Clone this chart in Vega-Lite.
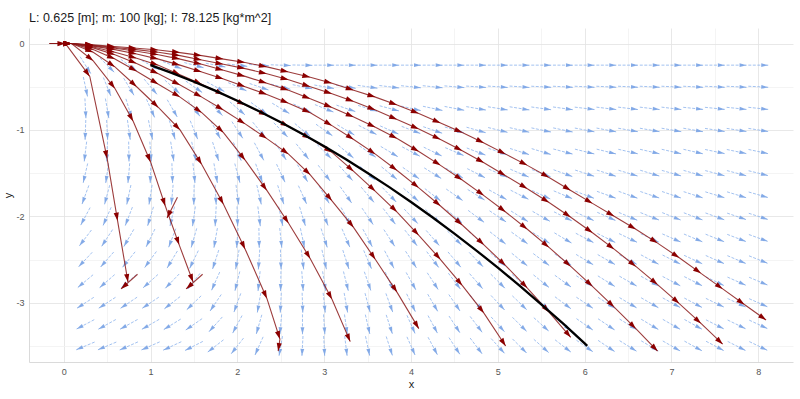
{
"$schema":"https://vega.github.io/schema/vega-lite/v6.json",
"width":764,"height":334,"autosize":"none",
"padding":{"left":29,"top":28,"right":7,"bottom":37},
"background":"white",
"title":{"text":"L: 0.625 [m]; m: 100 [kg]; I: 78.125 [kg*m^2]","anchor":"start","frame":"group","font":"Liberation Sans","fontSize":12.5,"fontWeight":"normal","color":"#1a1a1a","baseline":"alphabetic","offset":7,"dy":13},
"config":{"view":{"stroke":null}},
"datasets":{
"field":[
{"x":0.25,"y":-0.25,"a":-58},{"x":0.5,"y":-0.25,"a":-45},{"x":0.75,"y":-0.25,"a":-36},{"x":1,"y":-0.25,"a":-28},{"x":1.25,"y":-0.25,"a":-21},{"x":1.5,"y":-0.25,"a":-15},{"x":1.75,"y":-0.25,"a":-11},{"x":2,"y":-0.25,"a":-7},{"x":2.25,"y":-0.25,"a":-4},{"x":2.5,"y":-0.25,"a":-2},{"x":2.75,"y":-0.25,"a":-1},{"x":3,"y":-0.25,"a":0},{"x":3.25,"y":-0.25,"a":0},{"x":3.5,"y":-0.25,"a":0},{"x":3.75,"y":-0.25,"a":0},{"x":4,"y":-0.25,"a":0},{"x":4.25,"y":-0.25,"a":0},{"x":4.5,"y":-0.25,"a":0},{"x":4.75,"y":-0.25,"a":0},{"x":5,"y":-0.25,"a":0},{"x":5.25,"y":-0.25,"a":0},{"x":5.5,"y":-0.25,"a":0},{"x":5.75,"y":-0.25,"a":0},{"x":6,"y":-0.25,"a":0},{"x":6.25,"y":-0.25,"a":0},{"x":6.5,"y":-0.25,"a":0},{"x":6.75,"y":-0.25,"a":0},{"x":7,"y":-0.25,"a":0},{"x":7.25,"y":-0.25,"a":0},{"x":7.5,"y":-0.25,"a":0},{"x":7.75,"y":-0.25,"a":0},{"x":8,"y":-0.25,"a":0},
{"x":0.25,"y":-0.5,"a":-78},{"x":0.5,"y":-0.5,"a":-68},{"x":0.75,"y":-0.5,"a":-59},{"x":1,"y":-0.5,"a":-50},{"x":1.25,"y":-0.5,"a":-42},{"x":1.5,"y":-0.5,"a":-35},{"x":1.75,"y":-0.5,"a":-29},{"x":2,"y":-0.5,"a":-24},{"x":2.25,"y":-0.5,"a":-19},{"x":2.5,"y":-0.5,"a":-15},{"x":2.75,"y":-0.5,"a":-12},{"x":3,"y":-0.5,"a":-10},{"x":3.25,"y":-0.5,"a":-9},{"x":3.5,"y":-0.5,"a":-8},{"x":3.75,"y":-0.5,"a":-7},{"x":4,"y":-0.5,"a":-6},{"x":4.25,"y":-0.5,"a":-6},{"x":4.5,"y":-0.5,"a":-5},{"x":4.75,"y":-0.5,"a":-4},{"x":5,"y":-0.5,"a":-4},{"x":5.25,"y":-0.5,"a":-4},{"x":5.5,"y":-0.5,"a":-3},{"x":5.75,"y":-0.5,"a":-3},{"x":6,"y":-0.5,"a":-3},{"x":6.25,"y":-0.5,"a":-3},{"x":6.5,"y":-0.5,"a":-3},{"x":6.75,"y":-0.5,"a":-3},{"x":7,"y":-0.5,"a":-3},{"x":7.25,"y":-0.5,"a":-3},{"x":7.5,"y":-0.5,"a":-3},{"x":7.75,"y":-0.5,"a":-3},{"x":8,"y":-0.5,"a":-3},
{"x":0.25,"y":-0.75,"a":-87},{"x":0.5,"y":-0.75,"a":-80},{"x":0.75,"y":-0.75,"a":-73},{"x":1,"y":-0.75,"a":-66},{"x":1.25,"y":-0.75,"a":-60},{"x":1.5,"y":-0.75,"a":-53},{"x":1.75,"y":-0.75,"a":-47},{"x":2,"y":-0.75,"a":-41},{"x":2.25,"y":-0.75,"a":-36},{"x":2.5,"y":-0.75,"a":-31},{"x":2.75,"y":-0.75,"a":-26},{"x":3,"y":-0.75,"a":-22},{"x":3.25,"y":-0.75,"a":-19},{"x":3.5,"y":-0.75,"a":-17},{"x":3.75,"y":-0.75,"a":-15},{"x":4,"y":-0.75,"a":-13},{"x":4.25,"y":-0.75,"a":-12},{"x":4.5,"y":-0.75,"a":-11},{"x":4.75,"y":-0.75,"a":-10},{"x":5,"y":-0.75,"a":-9},{"x":5.25,"y":-0.75,"a":-9},{"x":5.5,"y":-0.75,"a":-8},{"x":5.75,"y":-0.75,"a":-8},{"x":6,"y":-0.75,"a":-7},{"x":6.25,"y":-0.75,"a":-7},{"x":6.5,"y":-0.75,"a":-7},{"x":6.75,"y":-0.75,"a":-7},{"x":7,"y":-0.75,"a":-7},{"x":7.25,"y":-0.75,"a":-6},{"x":7.5,"y":-0.75,"a":-6},{"x":7.75,"y":-0.75,"a":-6},{"x":8,"y":-0.75,"a":-6},
{"x":0.25,"y":-1,"a":-92},{"x":0.5,"y":-1,"a":-87},{"x":0.75,"y":-1,"a":-82},{"x":1,"y":-1,"a":-78},{"x":1.25,"y":-1,"a":-73},{"x":1.5,"y":-1,"a":-68},{"x":1.75,"y":-1,"a":-62},{"x":2,"y":-1,"a":-57},{"x":2.25,"y":-1,"a":-51},{"x":2.5,"y":-1,"a":-46},{"x":2.75,"y":-1,"a":-40},{"x":3,"y":-1,"a":-35},{"x":3.25,"y":-1,"a":-31},{"x":3.5,"y":-1,"a":-27},{"x":3.75,"y":-1,"a":-24},{"x":4,"y":-1,"a":-21},{"x":4.25,"y":-1,"a":-19},{"x":4.5,"y":-1,"a":-17},{"x":4.75,"y":-1,"a":-16},{"x":5,"y":-1,"a":-14},{"x":5.25,"y":-1,"a":-13},{"x":5.5,"y":-1,"a":-12},{"x":5.75,"y":-1,"a":-12},{"x":6,"y":-1,"a":-11},{"x":6.25,"y":-1,"a":-11},{"x":6.5,"y":-1,"a":-10},{"x":6.75,"y":-1,"a":-10},{"x":7,"y":-1,"a":-10},{"x":7.25,"y":-1,"a":-10},{"x":7.5,"y":-1,"a":-9},{"x":7.75,"y":-1,"a":-9},{"x":8,"y":-1,"a":-9},
{"x":0.25,"y":-1.25,"a":-97},{"x":0.5,"y":-1.25,"a":-92},{"x":0.75,"y":-1.25,"a":-89},{"x":1,"y":-1.25,"a":-86},{"x":1.25,"y":-1.25,"a":-81},{"x":1.5,"y":-1.25,"a":-77},{"x":1.75,"y":-1.25,"a":-72},{"x":2,"y":-1.25,"a":-67},{"x":2.25,"y":-1.25,"a":-62},{"x":2.5,"y":-1.25,"a":-57},{"x":2.75,"y":-1.25,"a":-51},{"x":3,"y":-1.25,"a":-45},{"x":3.25,"y":-1.25,"a":-40},{"x":3.5,"y":-1.25,"a":-35},{"x":3.75,"y":-1.25,"a":-31},{"x":4,"y":-1.25,"a":-28},{"x":4.25,"y":-1.25,"a":-26},{"x":4.5,"y":-1.25,"a":-23},{"x":4.75,"y":-1.25,"a":-21},{"x":5,"y":-1.25,"a":-19},{"x":5.25,"y":-1.25,"a":-18},{"x":5.5,"y":-1.25,"a":-17},{"x":5.75,"y":-1.25,"a":-15},{"x":6,"y":-1.25,"a":-14},{"x":6.25,"y":-1.25,"a":-14},{"x":6.5,"y":-1.25,"a":-13},{"x":6.75,"y":-1.25,"a":-13},{"x":7,"y":-1.25,"a":-13},{"x":7.25,"y":-1.25,"a":-13},{"x":7.5,"y":-1.25,"a":-12},{"x":7.75,"y":-1.25,"a":-12},{"x":8,"y":-1.25,"a":-12},
{"x":0.25,"y":-1.5,"a":-103},{"x":0.5,"y":-1.5,"a":-98},{"x":0.75,"y":-1.5,"a":-95},{"x":1,"y":-1.5,"a":-92},{"x":1.25,"y":-1.5,"a":-88},{"x":1.5,"y":-1.5,"a":-84},{"x":1.75,"y":-1.5,"a":-80},{"x":2,"y":-1.5,"a":-75},{"x":2.25,"y":-1.5,"a":-70},{"x":2.5,"y":-1.5,"a":-65},{"x":2.75,"y":-1.5,"a":-59},{"x":3,"y":-1.5,"a":-53},{"x":3.25,"y":-1.5,"a":-48},{"x":3.5,"y":-1.5,"a":-43},{"x":3.75,"y":-1.5,"a":-39},{"x":4,"y":-1.5,"a":-35},{"x":4.25,"y":-1.5,"a":-32},{"x":4.5,"y":-1.5,"a":-30},{"x":4.75,"y":-1.5,"a":-27},{"x":5,"y":-1.5,"a":-24},{"x":5.25,"y":-1.5,"a":-23},{"x":5.5,"y":-1.5,"a":-21},{"x":5.75,"y":-1.5,"a":-20},{"x":6,"y":-1.5,"a":-18},{"x":6.25,"y":-1.5,"a":-18},{"x":6.5,"y":-1.5,"a":-17},{"x":6.75,"y":-1.5,"a":-17},{"x":7,"y":-1.5,"a":-16},{"x":7.25,"y":-1.5,"a":-16},{"x":7.5,"y":-1.5,"a":-15},{"x":7.75,"y":-1.5,"a":-15},{"x":8,"y":-1.5,"a":-14},
{"x":0.25,"y":-1.75,"a":-110},{"x":0.5,"y":-1.75,"a":-105},{"x":0.75,"y":-1.75,"a":-102},{"x":1,"y":-1.75,"a":-99},{"x":1.25,"y":-1.75,"a":-95},{"x":1.5,"y":-1.75,"a":-91},{"x":1.75,"y":-1.75,"a":-87},{"x":2,"y":-1.75,"a":-82},{"x":2.25,"y":-1.75,"a":-77},{"x":2.5,"y":-1.75,"a":-72},{"x":2.75,"y":-1.75,"a":-66},{"x":3,"y":-1.75,"a":-60},{"x":3.25,"y":-1.75,"a":-55},{"x":3.5,"y":-1.75,"a":-50},{"x":3.75,"y":-1.75,"a":-46},{"x":4,"y":-1.75,"a":-41},{"x":4.25,"y":-1.75,"a":-38},{"x":4.5,"y":-1.75,"a":-35},{"x":4.75,"y":-1.75,"a":-32},{"x":5,"y":-1.75,"a":-29},{"x":5.25,"y":-1.75,"a":-27},{"x":5.5,"y":-1.75,"a":-25},{"x":5.75,"y":-1.75,"a":-23},{"x":6,"y":-1.75,"a":-21},{"x":6.25,"y":-1.75,"a":-20},{"x":6.5,"y":-1.75,"a":-20},{"x":6.75,"y":-1.75,"a":-19},{"x":7,"y":-1.75,"a":-19},{"x":7.25,"y":-1.75,"a":-18},{"x":7.5,"y":-1.75,"a":-17},{"x":7.75,"y":-1.75,"a":-17},{"x":8,"y":-1.75,"a":-16},
{"x":0.25,"y":-2,"a":-118},{"x":0.5,"y":-2,"a":-114},{"x":0.75,"y":-2,"a":-111},{"x":1,"y":-2,"a":-107},{"x":1.25,"y":-2,"a":-103},{"x":1.5,"y":-2,"a":-98},{"x":1.75,"y":-2,"a":-93},{"x":2,"y":-2,"a":-88},{"x":2.25,"y":-2,"a":-83},{"x":2.5,"y":-2,"a":-78},{"x":2.75,"y":-2,"a":-73},{"x":3,"y":-2,"a":-67},{"x":3.25,"y":-2,"a":-62},{"x":3.5,"y":-2,"a":-56},{"x":3.75,"y":-2,"a":-52},{"x":4,"y":-2,"a":-47},{"x":4.25,"y":-2,"a":-44},{"x":4.5,"y":-2,"a":-41},{"x":4.75,"y":-2,"a":-37},{"x":5,"y":-2,"a":-34},{"x":5.25,"y":-2,"a":-32},{"x":5.5,"y":-2,"a":-30},{"x":5.75,"y":-2,"a":-27},{"x":6,"y":-2,"a":-25},{"x":6.25,"y":-2,"a":-24},{"x":6.5,"y":-2,"a":-23},{"x":6.75,"y":-2,"a":-22},{"x":7,"y":-2,"a":-22},{"x":7.25,"y":-2,"a":-21},{"x":7.5,"y":-2,"a":-20},{"x":7.75,"y":-2,"a":-19},{"x":8,"y":-2,"a":-18},
{"x":0.25,"y":-2.25,"a":-127},{"x":0.5,"y":-2.25,"a":-123},{"x":0.75,"y":-2.25,"a":-120},{"x":1,"y":-2.25,"a":-116},{"x":1.25,"y":-2.25,"a":-111},{"x":1.5,"y":-2.25,"a":-106},{"x":1.75,"y":-2.25,"a":-100},{"x":2,"y":-2.25,"a":-94},{"x":2.25,"y":-2.25,"a":-89},{"x":2.5,"y":-2.25,"a":-84},{"x":2.75,"y":-2.25,"a":-78},{"x":3,"y":-2.25,"a":-72},{"x":3.25,"y":-2.25,"a":-67},{"x":3.5,"y":-2.25,"a":-62},{"x":3.75,"y":-2.25,"a":-57},{"x":4,"y":-2.25,"a":-52},{"x":4.25,"y":-2.25,"a":-49},{"x":4.5,"y":-2.25,"a":-45},{"x":4.75,"y":-2.25,"a":-42},{"x":5,"y":-2.25,"a":-38},{"x":5.25,"y":-2.25,"a":-36},{"x":5.5,"y":-2.25,"a":-33},{"x":5.75,"y":-2.25,"a":-31},{"x":6,"y":-2.25,"a":-28},{"x":6.25,"y":-2.25,"a":-27},{"x":6.5,"y":-2.25,"a":-26},{"x":6.75,"y":-2.25,"a":-25},{"x":7,"y":-2.25,"a":-24},{"x":7.25,"y":-2.25,"a":-23},{"x":7.5,"y":-2.25,"a":-22},{"x":7.75,"y":-2.25,"a":-21},{"x":8,"y":-2.25,"a":-20},
{"x":0.25,"y":-2.5,"a":-133},{"x":0.5,"y":-2.5,"a":-131},{"x":0.75,"y":-2.5,"a":-129},{"x":1,"y":-2.5,"a":-126},{"x":1.25,"y":-2.5,"a":-121},{"x":1.5,"y":-2.5,"a":-116},{"x":1.75,"y":-2.5,"a":-108},{"x":2,"y":-2.5,"a":-100},{"x":2.25,"y":-2.5,"a":-94},{"x":2.5,"y":-2.5,"a":-88},{"x":2.75,"y":-2.5,"a":-83},{"x":3,"y":-2.5,"a":-77},{"x":3.25,"y":-2.5,"a":-72},{"x":3.5,"y":-2.5,"a":-67},{"x":3.75,"y":-2.5,"a":-62},{"x":4,"y":-2.5,"a":-57},{"x":4.25,"y":-2.5,"a":-53},{"x":4.5,"y":-2.5,"a":-50},{"x":4.75,"y":-2.5,"a":-46},{"x":5,"y":-2.5,"a":-42},{"x":5.25,"y":-2.5,"a":-39},{"x":5.5,"y":-2.5,"a":-37},{"x":5.75,"y":-2.5,"a":-34},{"x":6,"y":-2.5,"a":-31},{"x":6.25,"y":-2.5,"a":-30},{"x":6.5,"y":-2.5,"a":-29},{"x":6.75,"y":-2.5,"a":-28},{"x":7,"y":-2.5,"a":-27},{"x":7.25,"y":-2.5,"a":-25},{"x":7.5,"y":-2.5,"a":-24},{"x":7.75,"y":-2.5,"a":-23},{"x":8,"y":-2.5,"a":-22},
{"x":0.25,"y":-2.75,"a":-140},{"x":0.5,"y":-2.75,"a":-139},{"x":0.75,"y":-2.75,"a":-139},{"x":1,"y":-2.75,"a":-138},{"x":1.25,"y":-2.75,"a":-134},{"x":1.5,"y":-2.75,"a":-128},{"x":1.75,"y":-2.75,"a":-114},{"x":2,"y":-2.75,"a":-104},{"x":2.25,"y":-2.75,"a":-96},{"x":2.5,"y":-2.75,"a":-91},{"x":2.75,"y":-2.75,"a":-86},{"x":3,"y":-2.75,"a":-81},{"x":3.25,"y":-2.75,"a":-76},{"x":3.5,"y":-2.75,"a":-71},{"x":3.75,"y":-2.75,"a":-66},{"x":4,"y":-2.75,"a":-61},{"x":4.25,"y":-2.75,"a":-57},{"x":4.5,"y":-2.75,"a":-53},{"x":4.75,"y":-2.75,"a":-49},{"x":5,"y":-2.75,"a":-45},{"x":5.25,"y":-2.75,"a":-42},{"x":5.5,"y":-2.75,"a":-39},{"x":5.75,"y":-2.75,"a":-36},{"x":6,"y":-2.75,"a":-33},{"x":6.25,"y":-2.75,"a":-32},{"x":6.5,"y":-2.75,"a":-30},{"x":6.75,"y":-2.75,"a":-29},{"x":7,"y":-2.75,"a":-28},{"x":7.25,"y":-2.75,"a":-27},{"x":7.5,"y":-2.75,"a":-26},{"x":7.75,"y":-2.75,"a":-24},{"x":8,"y":-2.75,"a":-23},
{"x":0.25,"y":-3,"a":-147},{"x":0.5,"y":-3,"a":-147},{"x":0.75,"y":-3,"a":-146},{"x":1,"y":-3,"a":-146},{"x":1.25,"y":-3,"a":-142},{"x":1.5,"y":-3,"a":-136},{"x":1.75,"y":-3,"a":-124},{"x":2,"y":-3,"a":-110},{"x":2.25,"y":-3,"a":-100},{"x":2.5,"y":-3,"a":-93},{"x":2.75,"y":-3,"a":-88},{"x":3,"y":-3,"a":-84},{"x":3.25,"y":-3,"a":-80},{"x":3.5,"y":-3,"a":-75},{"x":3.75,"y":-3,"a":-70},{"x":4,"y":-3,"a":-64},{"x":4.25,"y":-3,"a":-60},{"x":4.5,"y":-3,"a":-56},{"x":4.75,"y":-3,"a":-51},{"x":5,"y":-3,"a":-47},{"x":5.25,"y":-3,"a":-44},{"x":5.5,"y":-3,"a":-41},{"x":5.75,"y":-3,"a":-37},{"x":6,"y":-3,"a":-34},{"x":6.25,"y":-3,"a":-33},{"x":6.5,"y":-3,"a":-31},{"x":6.75,"y":-3,"a":-30},{"x":7,"y":-3,"a":-29},{"x":7.25,"y":-3,"a":-28},{"x":7.5,"y":-3,"a":-26},{"x":7.75,"y":-3,"a":-25},{"x":8,"y":-3,"a":-24},
{"x":0.25,"y":-3.25,"a":-152},{"x":0.5,"y":-3.25,"a":-151},{"x":0.75,"y":-3.25,"a":-151},{"x":1,"y":-3.25,"a":-150},{"x":1.25,"y":-3.25,"a":-148},{"x":1.5,"y":-3.25,"a":-145},{"x":1.75,"y":-3.25,"a":-132},{"x":2,"y":-3.25,"a":-118},{"x":2.25,"y":-3.25,"a":-106},{"x":2.5,"y":-3.25,"a":-95},{"x":2.75,"y":-3.25,"a":-90},{"x":3,"y":-3.25,"a":-86},{"x":3.25,"y":-3.25,"a":-82},{"x":3.5,"y":-3.25,"a":-77},{"x":3.75,"y":-3.25,"a":-72},{"x":4,"y":-3.25,"a":-66},{"x":4.25,"y":-3.25,"a":-62},{"x":4.5,"y":-3.25,"a":-57},{"x":4.75,"y":-3.25,"a":-53},{"x":5,"y":-3.25,"a":-48},{"x":5.25,"y":-3.25,"a":-45},{"x":5.5,"y":-3.25,"a":-42},{"x":5.75,"y":-3.25,"a":-38},{"x":6,"y":-3.25,"a":-35},{"x":6.25,"y":-3.25,"a":-34},{"x":6.5,"y":-3.25,"a":-32},{"x":6.75,"y":-3.25,"a":-31},{"x":7,"y":-3.25,"a":-30},{"x":7.25,"y":-3.25,"a":-29},{"x":7.5,"y":-3.25,"a":-27},{"x":7.75,"y":-3.25,"a":-26},{"x":8,"y":-3.25,"a":-25},
{"x":0.25,"y":-3.5,"a":-157},{"x":0.5,"y":-3.5,"a":-157},{"x":0.75,"y":-3.5,"a":-156},{"x":1,"y":-3.5,"a":-156},{"x":1.25,"y":-3.5,"a":-155},{"x":1.5,"y":-3.5,"a":-153},{"x":1.75,"y":-3.5,"a":-142},{"x":2,"y":-3.5,"a":-128},{"x":2.25,"y":-3.5,"a":-114},{"x":2.5,"y":-3.5,"a":-100},{"x":2.75,"y":-3.5,"a":-93},{"x":3,"y":-3.5,"a":-87},{"x":3.25,"y":-3.5,"a":-83},{"x":3.5,"y":-3.5,"a":-78},{"x":3.75,"y":-3.5,"a":-72},{"x":4,"y":-3.5,"a":-66},{"x":4.25,"y":-3.5,"a":-62},{"x":4.5,"y":-3.5,"a":-57},{"x":4.75,"y":-3.5,"a":-53},{"x":5,"y":-3.5,"a":-48},{"x":5.25,"y":-3.5,"a":-45},{"x":5.5,"y":-3.5,"a":-42},{"x":5.75,"y":-3.5,"a":-38},{"x":6,"y":-3.5,"a":-35},{"x":6.25,"y":-3.5,"a":-34},{"x":6.5,"y":-3.5,"a":-32},{"x":6.75,"y":-3.5,"a":-31},{"x":7,"y":-3.5,"a":-30},{"x":7.25,"y":-3.5,"a":-29},{"x":7.5,"y":-3.5,"a":-28},{"x":7.75,"y":-3.5,"a":-27},{"x":8,"y":-3.5,"a":-26}
],
"traj":[
{"c":"J","i":0,"x":-0.16,"y":0},{"c":"J","i":1,"x":0.09,"y":0},{"c":"J","i":2,"x":0.34,"y":-0.015},{"c":"J","i":3,"x":0.59,"y":-0.035},{"c":"J","i":4,"x":0.84,"y":-0.055},{"c":"J","i":5,"x":1.09,"y":-0.075},{"c":"J","i":6,"x":1.34,"y":-0.105},{"c":"J","i":7,"x":1.59,"y":-0.14},{"c":"J","i":8,"x":1.84,"y":-0.18},{"c":"J","i":9,"x":2.09,"y":-0.22},{"c":"J","i":10,"x":2.34,"y":-0.27},{"c":"J","i":11,"x":2.59,"y":-0.33},{"c":"J","i":12,"x":2.84,"y":-0.39},{"c":"J","i":13,"x":3.09,"y":-0.46},{"c":"J","i":14,"x":3.34,"y":-0.54},{"c":"J","i":15,"x":3.59,"y":-0.62},{"c":"J","i":16,"x":3.84,"y":-0.71},{"c":"J","i":17,"x":4.09,"y":-0.81},{"c":"J","i":18,"x":4.34,"y":-0.92},{"c":"J","i":19,"x":4.59,"y":-1.03},{"c":"J","i":20,"x":4.84,"y":-1.15},{"c":"J","i":21,"x":5.09,"y":-1.28},{"c":"J","i":22,"x":5.34,"y":-1.41},{"c":"J","i":23,"x":5.59,"y":-1.55},{"c":"J","i":24,"x":5.84,"y":-1.7},{"c":"J","i":25,"x":6.09,"y":-1.85},{"c":"J","i":26,"x":6.34,"y":-2.0},{"c":"J","i":27,"x":6.59,"y":-2.15},{"c":"J","i":28,"x":6.84,"y":-2.31},{"c":"J","i":29,"x":7.09,"y":-2.48},{"c":"J","i":30,"x":7.34,"y":-2.66},{"c":"J","i":31,"x":7.59,"y":-2.84},{"c":"J","i":32,"x":7.84,"y":-3.02},{"c":"J","i":33,"x":8.09,"y":-3.2},
{"c":"I","i":0,"x":-0.16,"y":0},{"c":"I","i":1,"x":0.09,"y":0},{"c":"I","i":2,"x":0.34,"y":-0.02},{"c":"I","i":3,"x":0.59,"y":-0.045},{"c":"I","i":4,"x":0.84,"y":-0.07},{"c":"I","i":5,"x":1.09,"y":-0.1},{"c":"I","i":6,"x":1.34,"y":-0.14},{"c":"I","i":7,"x":1.59,"y":-0.19},{"c":"I","i":8,"x":1.84,"y":-0.24},{"c":"I","i":9,"x":2.09,"y":-0.29},{"c":"I","i":10,"x":2.34,"y":-0.35},{"c":"I","i":11,"x":2.59,"y":-0.42},{"c":"I","i":12,"x":2.84,"y":-0.5},{"c":"I","i":13,"x":3.09,"y":-0.58},{"c":"I","i":14,"x":3.34,"y":-0.67},{"c":"I","i":15,"x":3.59,"y":-0.77},{"c":"I","i":16,"x":3.84,"y":-0.88},{"c":"I","i":17,"x":4.09,"y":-0.99},{"c":"I","i":18,"x":4.34,"y":-1.11},{"c":"I","i":19,"x":4.59,"y":-1.24},{"c":"I","i":20,"x":4.84,"y":-1.38},{"c":"I","i":21,"x":5.09,"y":-1.53},{"c":"I","i":22,"x":5.34,"y":-1.68},{"c":"I","i":23,"x":5.59,"y":-1.84},{"c":"I","i":24,"x":5.84,"y":-2.01},{"c":"I","i":25,"x":6.09,"y":-2.19},{"c":"I","i":26,"x":6.34,"y":-2.38},{"c":"I","i":27,"x":6.59,"y":-2.58},{"c":"I","i":28,"x":6.84,"y":-2.79},{"c":"I","i":29,"x":7.09,"y":-3.01},{"c":"I","i":30,"x":7.34,"y":-3.24},{"c":"I","i":31,"x":7.59,"y":-3.48},
{"c":"H","i":0,"x":-0.16,"y":0},{"c":"H","i":1,"x":0.09,"y":0},{"c":"H","i":2,"x":0.34,"y":-0.025},{"c":"H","i":3,"x":0.59,"y":-0.055},{"c":"H","i":4,"x":0.84,"y":-0.09},{"c":"H","i":5,"x":1.09,"y":-0.13},{"c":"H","i":6,"x":1.34,"y":-0.18},{"c":"H","i":7,"x":1.59,"y":-0.24},{"c":"H","i":8,"x":1.84,"y":-0.31},{"c":"H","i":9,"x":2.09,"y":-0.38},{"c":"H","i":10,"x":2.34,"y":-0.46},{"c":"H","i":11,"x":2.59,"y":-0.54},{"c":"H","i":12,"x":2.84,"y":-0.64},{"c":"H","i":13,"x":3.09,"y":-0.74},{"c":"H","i":14,"x":3.34,"y":-0.85},{"c":"H","i":15,"x":3.59,"y":-0.97},{"c":"H","i":16,"x":3.84,"y":-1.1},{"c":"H","i":17,"x":4.09,"y":-1.25},{"c":"H","i":18,"x":4.34,"y":-1.41},{"c":"H","i":19,"x":4.59,"y":-1.58},{"c":"H","i":20,"x":4.84,"y":-1.76},{"c":"H","i":21,"x":5.09,"y":-1.95},{"c":"H","i":22,"x":5.34,"y":-2.15},{"c":"H","i":23,"x":5.59,"y":-2.36},{"c":"H","i":24,"x":5.84,"y":-2.58},{"c":"H","i":25,"x":6.09,"y":-2.81},{"c":"H","i":26,"x":6.34,"y":-3.05},{"c":"H","i":27,"x":6.59,"y":-3.3},{"c":"H","i":28,"x":6.84,"y":-3.56},
{"c":"G","i":0,"x":-0.16,"y":0},{"c":"G","i":1,"x":0.09,"y":0},{"c":"G","i":2,"x":0.34,"y":-0.03},{"c":"G","i":3,"x":0.59,"y":-0.07},{"c":"G","i":4,"x":0.84,"y":-0.12},{"c":"G","i":5,"x":1.09,"y":-0.18},{"c":"G","i":6,"x":1.34,"y":-0.25},{"c":"G","i":7,"x":1.59,"y":-0.33},{"c":"G","i":8,"x":1.84,"y":-0.41},{"c":"G","i":9,"x":2.09,"y":-0.5},{"c":"G","i":10,"x":2.34,"y":-0.59},{"c":"G","i":11,"x":2.59,"y":-0.69},{"c":"G","i":12,"x":2.84,"y":-0.8},{"c":"G","i":13,"x":3.09,"y":-0.95},{"c":"G","i":14,"x":3.34,"y":-1.11},{"c":"G","i":15,"x":3.59,"y":-1.28},{"c":"G","i":16,"x":3.84,"y":-1.47},{"c":"G","i":17,"x":4.09,"y":-1.67},{"c":"G","i":18,"x":4.34,"y":-1.88},{"c":"G","i":19,"x":4.59,"y":-2.1},{"c":"G","i":20,"x":4.84,"y":-2.33},{"c":"G","i":21,"x":5.09,"y":-2.57},{"c":"G","i":22,"x":5.34,"y":-2.83},{"c":"G","i":23,"x":5.59,"y":-3.11},{"c":"G","i":24,"x":5.84,"y":-3.4},
{"c":"F","i":0,"x":-0.16,"y":0},{"c":"F","i":1,"x":0.09,"y":0},{"c":"F","i":2,"x":0.34,"y":-0.04},{"c":"F","i":3,"x":0.59,"y":-0.1},{"c":"F","i":4,"x":0.84,"y":-0.17},{"c":"F","i":5,"x":1.09,"y":-0.25},{"c":"F","i":6,"x":1.34,"y":-0.36},{"c":"F","i":7,"x":1.59,"y":-0.47},{"c":"F","i":8,"x":1.84,"y":-0.59},{"c":"F","i":9,"x":2.09,"y":-0.71},{"c":"F","i":10,"x":2.34,"y":-0.83},{"c":"F","i":11,"x":2.59,"y":-0.96},{"c":"F","i":12,"x":2.84,"y":-1.1},{"c":"F","i":13,"x":3.09,"y":-1.26},{"c":"F","i":14,"x":3.34,"y":-1.48},{"c":"F","i":15,"x":3.59,"y":-1.71},{"c":"F","i":16,"x":3.84,"y":-1.95},{"c":"F","i":17,"x":4.09,"y":-2.22},{"c":"F","i":18,"x":4.34,"y":-2.5},{"c":"F","i":19,"x":4.59,"y":-2.8},{"c":"F","i":20,"x":4.84,"y":-3.12},{"c":"F","i":21,"x":5.09,"y":-3.5},
{"c":"E","i":0,"x":-0.16,"y":0},{"c":"E","i":1,"x":0.09,"y":0},{"c":"E","i":2,"x":0.34,"y":-0.05},{"c":"E","i":3,"x":0.59,"y":-0.13},{"c":"E","i":4,"x":0.84,"y":-0.23},{"c":"E","i":5,"x":1.09,"y":-0.35},{"c":"E","i":6,"x":1.34,"y":-0.48},{"c":"E","i":7,"x":1.59,"y":-0.62},{"c":"E","i":8,"x":1.84,"y":-0.77},{"c":"E","i":9,"x":2.09,"y":-0.93},{"c":"E","i":10,"x":2.34,"y":-1.1},{"c":"E","i":11,"x":2.59,"y":-1.28},{"c":"E","i":12,"x":2.84,"y":-1.52},{"c":"E","i":13,"x":3.09,"y":-1.82},{"c":"E","i":14,"x":3.34,"y":-2.13},{"c":"E","i":15,"x":3.59,"y":-2.5},{"c":"E","i":16,"x":3.84,"y":-2.88},{"c":"E","i":17,"x":4.09,"y":-3.3},
{"c":"D","i":0,"x":-0.16,"y":0},{"c":"D","i":1,"x":0.09,"y":0},{"c":"D","i":2,"x":0.34,"y":-0.07},{"c":"D","i":3,"x":0.59,"y":-0.18},{"c":"D","i":4,"x":0.84,"y":-0.32},{"c":"D","i":5,"x":1.09,"y":-0.47},{"c":"D","i":6,"x":1.34,"y":-0.62},{"c":"D","i":7,"x":1.59,"y":-0.8},{"c":"D","i":8,"x":1.84,"y":-1.03},{"c":"D","i":9,"x":2.09,"y":-1.35},{"c":"D","i":10,"x":2.34,"y":-1.7},{"c":"D","i":11,"x":2.59,"y":-2.08},{"c":"D","i":12,"x":2.84,"y":-2.49},{"c":"D","i":13,"x":3.09,"y":-2.96},{"c":"D","i":14,"x":3.3,"y":-3.45},
{"c":"C","i":0,"x":-0.16,"y":0},{"c":"C","i":1,"x":0.09,"y":0},{"c":"C","i":2,"x":0.34,"y":-0.1},{"c":"C","i":3,"x":0.59,"y":-0.27},{"c":"C","i":4,"x":0.84,"y":-0.5},{"c":"C","i":5,"x":1.09,"y":-0.74},{"c":"C","i":6,"x":1.34,"y":-1.0},{"c":"C","i":7,"x":1.59,"y":-1.4},{"c":"C","i":8,"x":1.84,"y":-1.86},{"c":"C","i":9,"x":2.09,"y":-2.38},{"c":"C","i":10,"x":2.34,"y":-2.95},{"c":"C","i":11,"x":2.49,"y":-3.42},{"c":"C","i":12,"x":2.47,"y":-3.56},
{"c":"B","i":0,"x":-0.16,"y":0},{"c":"B","i":1,"x":0.09,"y":0},{"c":"B","i":2,"x":0.34,"y":-0.2},{"c":"B","i":3,"x":0.59,"y":-0.52},{"c":"B","i":4,"x":0.8,"y":-0.9},{"c":"B","i":5,"x":1.0,"y":-1.37},{"c":"B","i":6,"x":1.17,"y":-1.88},{"c":"B","i":7,"x":1.33,"y":-2.33},{"c":"B","i":8,"x":1.49,"y":-2.76},
{"c":"A","i":0,"x":-0.16,"y":0},{"c":"A","i":1,"x":0.02,"y":0},{"c":"A","i":2,"x":0.3,"y":-0.38},{"c":"A","i":3,"x":0.5,"y":-1.33},{"c":"A","i":4,"x":0.62,"y":-2.05},{"c":"A","i":5,"x":0.74,"y":-2.76},
{"c":"A2","i":0,"x":0.85,"y":-2.67},{"c":"A2","i":1,"x":0.66,"y":-2.84},
{"c":"B2","i":0,"x":1.6,"y":-2.67},{"c":"B2","i":1,"x":1.41,"y":-2.84},
{"c":"B3","i":0,"x":1.31,"y":-1.78},{"c":"B3","i":1,"x":1.19,"y":-2.02}
],
"black":[
{"x":1.0,"y":-0.25},{"x":1.25,"y":-0.342},{"x":1.5,"y":-0.442},{"x":1.75,"y":-0.548},{"x":2.0,"y":-0.662},{"x":2.25,"y":-0.783},{"x":2.5,"y":-0.912},{"x":2.75,"y":-1.047},{"x":3.0,"y":-1.19},{"x":3.25,"y":-1.34},{"x":3.5,"y":-1.498},{"x":3.75,"y":-1.662},{"x":4.0,"y":-1.834},{"x":4.25,"y":-2.013},{"x":4.5,"y":-2.2},{"x":4.75,"y":-2.393},{"x":5.0,"y":-2.594},{"x":5.25,"y":-2.802},{"x":5.5,"y":-3.018},{"x":5.75,"y":-3.24},{"x":6.0,"y":-3.47},{"x":6.03,"y":-3.5}
]
},
"layer":[
{"data":{"name":"field"},
 "transform":[{"calculate":"datum.a*PI/180","as":"r"},{"calculate":"datum.x-0.115*cos(datum.r)","as":"x1"},{"calculate":"datum.y-0.115*sin(datum.r)","as":"y1"},{"calculate":"datum.x+0.115*cos(datum.r)","as":"x2"},{"calculate":"datum.y+0.115*sin(datum.r)","as":"y2"}],
 "mark":{"type":"rule","color":"#8db3ec","strokeWidth":0.9,"strokeDash":[3,1.5],"opacity":0.9},
 "encoding":{
  "x":{"field":"x1","type":"quantitative","scale":{"domain":[-0.4,8.4],"nice":false,"zero":false},
       "axis":{"title":"x","values":[0,0.5,1,1.5,2,2.5,3,3.5,4,4.5,5,5.5,6,6.5,7,7.5,8],"labelExpr":"datum.value % 1 === 0 ? '' + datum.value : ''","grid":true,"gridColor":{"condition":{"test":"datum.value % 1 === 0","value":"#e2e2e2"},"value":"#f1f1f1"},"gridWidth":0.8,"ticks":false,"tickSize":0,"domainColor":"#d0d0d0","domainWidth":0.8,"labelColor":"#555555","labelFont":"Liberation Sans","labelFontSize":9,"labelPadding":5,"labelOverlap":false,"labelFlush":false,"titleFont":"Liberation Sans","titleFontSize":11,"titleFontWeight":"normal","titleColor":"#222222","titlePadding":2}},
  "y":{"field":"y1","type":"quantitative","scale":{"domain":[-3.686,0.18],"nice":false,"zero":false},
       "axis":{"title":"y","values":[0,-0.5,-1,-1.5,-2,-2.5,-3,-3.5],"labelExpr":"datum.value % 1 === 0 ? '' + datum.value : ''","grid":true,"gridColor":{"condition":{"test":"datum.value % 1 === 0","value":"#e2e2e2"},"value":"#f1f1f1"},"gridWidth":0.8,"ticks":false,"tickSize":0,"domainColor":"#d0d0d0","domainWidth":0.8,"labelColor":"#555555","labelFont":"Liberation Sans","labelFontSize":9,"labelPadding":5,"labelOverlap":false,"labelFlush":false,"titleFont":"Liberation Sans","titleFontSize":11,"titleFontWeight":"normal","titleColor":"#222222","titlePadding":2}},
  "x2":{"field":"x2"},"y2":{"field":"y2"}}},
{"data":{"name":"field"},
 "transform":[{"calculate":"datum.a*PI/180","as":"r"},{"calculate":"datum.x+0.115*cos(datum.r)","as":"hx"},{"calculate":"datum.y+0.115*sin(datum.r)","as":"hy"},{"calculate":"-datum.a","as":"rot"}],
 "mark":{"type":"point","shape":"M0,0L-2,-0.55L-2,0.55Z","filled":true,"color":"#7ea6e6","opacity":0.95,"size":49,"strokeWidth":0},
 "encoding":{"x":{"field":"hx","type":"quantitative"},"y":{"field":"hy","type":"quantitative"},"angle":{"field":"rot","type":"quantitative","scale":null}}},
{"data":{"name":"traj"},
 "mark":{"type":"line","color":"#8b1a1a","strokeWidth":1.1,"opacity":0.85},
 "encoding":{"x":{"field":"x","type":"quantitative"},"y":{"field":"y","type":"quantitative"},"detail":{"field":"c","type":"nominal"},"order":{"field":"i","type":"quantitative"}}},
{"data":{"name":"traj"},
 "transform":[{"window":[{"op":"lag","field":"x","as":"px"},{"op":"lag","field":"y","as":"py"}],"groupby":["c"],"sort":[{"field":"i","order":"ascending"}]},{"filter":"datum.px != null"},{"calculate":"-atan2(datum.y-datum.py, datum.x-datum.px)*180/PI","as":"rot"}],
 "mark":{"type":"point","shape":"M0,0L-2,-0.65L-2,0.65Z","filled":true,"color":"#8b0000","opacity":1,"size":64,"strokeWidth":0},
 "encoding":{"x":{"field":"x","type":"quantitative"},"y":{"field":"y","type":"quantitative"},"angle":{"field":"rot","type":"quantitative","scale":null}}},
{"data":{"name":"black"},
 "mark":{"type":"line","color":"#000000","strokeWidth":2.3},
 "encoding":{"x":{"field":"x","type":"quantitative"},"y":{"field":"y","type":"quantitative"}}}
]
}
